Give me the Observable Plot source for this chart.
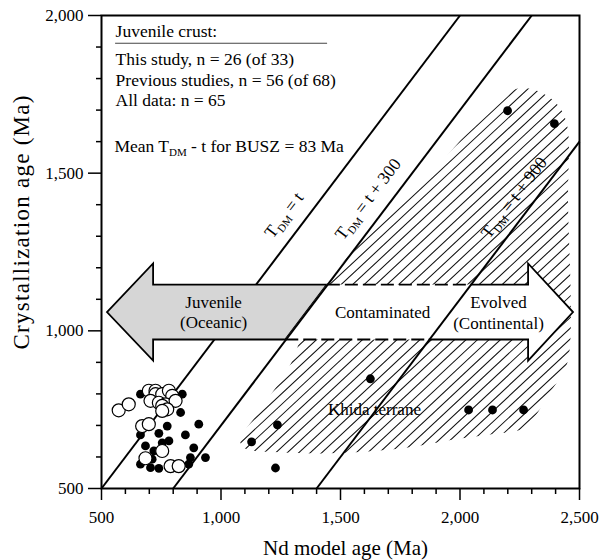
<!DOCTYPE html>
<html><head><meta charset="utf-8">
<script src="https://cdn.jsdelivr.net/npm/d3@7"></script>
<script src="https://cdn.jsdelivr.net/npm/@observablehq/plot@0.6"></script>
<style>body{margin:0;background:#fff}</style>
</head><body><div id="chart"></div>
<script>
// ---------- data ----------
const xTicks = [500, 1000, 1500, 2000, 2500];
const yTicks = [500, 1000, 1500, 2000];
const xMinor = [600,700,800,900,1100,1200,1300,1400,1600,1700,1800,1900,2100,2200,2300,2400];
const yMinor = [600,700,800,900,1100,1200,1300,1400,1600,1700,1800,1900];

// reference lines T_DM = t + offset
const refOffsets = [0, 300, 900];
const refLabels = ["t", "t + 300", "t + 900"];
const refLabelX = [1266, 1617, 2228];
const refLabelY = [1365, 1416, 1421];

// juvenile crust (open circles)
const openX = [572,614,698,726,726,754,782,796,705,740,768,754,810,775,754,670,698,754,684,789,823];
const openY = [748,767,810,810,799,799,810,794,778,772,767,762,778,751,746,698,704,619,596,571,571];
// other samples (filled circles)
const filledX = [663,838,831,775,907,663,740,851,684,719,754,782,663,705,740,872,886,865,935,712,
                 1236,1128,1228,1625,2036,2136,2266,2199,2395];
const filledY = [799,799,741,698,704,670,675,670,635,619,645,651,577,566,564,598,629,577,598,593,
                 702,648,565,848,749,749,749,1698,1657];

// hatched field (Khida terrane) outline
const hatchX = [1429,1835,2190,2253,2337,2412,2450,2454,2454,2412,2370,2328,2266,2128,2002,1751,1458,1249,1103,1082,1165,1291,1333];
const hatchY = [1137,1460,1746,1768,1756,1714,1651,1413,905,841,794,740,689,670,657,625,610,613,625,651,746,889,968];

// legend text
const legendLines = ["Juvenile crust:", "This study, n = 26 (of 33)", "Previous studies, n = 56 (of 68)", "All data: n = 65"];
const legendY = [1931, 1844, 1778, 1714];

// arrow annotations
const arrowLabels = ["Juvenile", "(Oceanic)", "Contaminated", "Evolved", "(Continental)", "Khida terrane"];
const arrowLabelX = [969, 969, 1676, 2161, 2161, 1642];
const arrowLabelY = [1089, 1025, 1057, 1089, 1022, 749];

const xTitle = "Nd model age (Ma)";
const yTitle = "Crystallization age (Ma)";

// ---------- geometry helpers ----------
const A = {mid: 1058, body: 87, head: 154, lTip: 525, lBase: 718, rBase: 2287, rTip: 2475};
const onLine = (y, off) => y + off; // x on T_DM = t + off at given y
const aTop = A.mid + A.body, aBot = A.mid - A.body;

const grayArrow = [[A.lTip, A.mid],[A.lBase, A.mid + A.head],[A.lBase, aTop],[onLine(aTop,300), aTop],
                   [onLine(aBot,300), aBot],[A.lBase, aBot],[A.lBase, A.mid - A.head]];
const whiteArrow = [[onLine(aTop,300), aTop],[A.rBase, aTop],[A.rBase, A.mid + A.head],[A.rTip, A.mid],
                    [A.rBase, A.mid - A.head],[A.rBase, aBot],[onLine(aBot,300), aBot]];
const solidOutline = [[onLine(aTop,900), aTop],[A.rBase, aTop],[A.rBase, A.mid + A.head],[A.rTip, A.mid],
                      [A.rBase, A.mid - A.head],[A.rBase, aBot],[onLine(aBot,900), aBot]];
const dashTop = [[onLine(aTop,300), aTop],[onLine(aTop,900), aTop]];
const dashBot = [[onLine(aBot,300), aBot],[onLine(aBot,900), aBot]];

const pathMark = (pts, attrs, closed, curve) => (index, scales) => {
  const d = d3.line().curve(curve || d3.curveLinear)(pts.map(([x, y]) => [scales.x(x), scales.y(y)]));
  const p = d3.create("svg:path").attr("d", d + (closed ? "Z" : ""));
  for (const k in attrs) p.attr(k, attrs[k]);
  return p.node();
};

// hatching: parallel strokes clipped to the field outline
const hatchMark = (index, scales) => {
  const g = d3.create("svg:g");
  const pts = hatchX.map((x, i) => [scales.x(x), scales.y(hatchY[i])]);
  g.append("defs").append("clipPath").attr("id", "hatchclip")
    .append("path").attr("d", d3.line().curve(d3.curveCatmullRomClosed)(pts));
  const xs = pts.map(p => p[0]), ys = pts.map(p => p[1]);
  const x0 = d3.min(xs) - 5, x1 = d3.max(xs) + 5, y0 = d3.min(ys) - 5, y1 = d3.max(ys) + 5;
  const ang = 43 * Math.PI / 180, step = 11.5; // horizontal spacing between strokes
  const t = Math.tan(ang), span = (y1 - y0) / t;
  let d = "";
  for (let xb = x0 - span; xb <= x1; xb += step) {
    d += `M${xb},${y1}L${xb + span},${y0}`;
  }
  g.append("path").attr("d", d).attr("clip-path", "url(#hatchclip)")
    .attr("stroke", "#111").attr("stroke-width", 1.05).attr("fill", "none");
  return g.node();
};

// texts with T_DM subscript
const richItems = [
  ...refLabels.map((s, i) => ({x: refLabelX[i], y: refLabelY[i], rotate: -52.8, anchor: "middle", dy: "0.32em", rest: " = " + s})),
  {x: 556, y: 1566, rotate: 0, anchor: "start", dy: 0, pre: "Mean ", rest: " - t for BUSZ = 83 Ma"}
];
const richText = (index, scales) => {
  const g = d3.create("svg:g").attr("font-family", "'Liberation Serif', serif").attr("fill", "black");
  for (const it of richItems) {
    const t = g.append("text")
      .attr("transform", `translate(${scales.x(it.x)},${scales.y(it.y)}) rotate(${it.rotate})`)
      .attr("text-anchor", it.anchor).attr("font-size", 17.5).attr("dy", it.dy);
    t.append("tspan").text((it.pre || "") + "T");
    t.append("tspan").attr("font-size", 11).attr("dy", 4).text("DM");
    t.append("tspan").attr("dy", -4).text(it.rest);
  }
  return g.node();
};

// y-axis title, placed relative to the frame
const yTitleMark = (index, scales, values, dims) => {
  const x = dims.marginLeft - 79;
  const y = (dims.marginTop + dims.height - dims.marginBottom) / 2 - 29;
  return d3.create("svg:text")
    .attr("transform", `translate(${x},${y}) rotate(-90)`)
    .attr("text-anchor", "middle").attr("dy", "0.32em")
    .attr("font-family", "'Liberation Serif', serif").attr("font-size", 23)
    .attr("textLength", 254).attr("lengthAdjust", "spacing")
    .attr("fill", "black").text(yTitle).node();
};

const refs = refOffsets.map(o => {
  const x2 = Math.min(2500, 2000 + o);
  return {o, x1: 500 + o, y1: 500, x2, y2: x2 - o};
});

// ---------- plot ----------
const chart = Plot.plot({
  width: 601, height: 560,
  marginLeft: 101, marginRight: 22, marginTop: 15, marginBottom: 72,
  x: {domain: [500, 2500]},
  y: {domain: [500, 2000]},
  style: {fontFamily: "'Liberation Serif', serif", fontSize: "17px", color: "black", background: "white"},
  marks: [
    hatchMark,
    Plot.link(refs.filter(d => d.o === 0), {x1: "x1", y1: "y1", x2: "x2", y2: "y2", stroke: "black", strokeWidth: 2}),
    pathMark(grayArrow, {fill: "#d6d6d6", stroke: "black", "stroke-width": 1.8, "stroke-linejoin": "miter"}, true),
    pathMark(whiteArrow, {fill: "white", stroke: "none"}, true),
    pathMark(solidOutline, {fill: "none", stroke: "black", "stroke-width": 1.8}, false),
    pathMark(dashTop, {fill: "none", stroke: "black", "stroke-width": 1.8, "stroke-dasharray": "13,5"}, false),
    pathMark(dashBot, {fill: "none", stroke: "black", "stroke-width": 1.8, "stroke-dasharray": "13,5"}, false),
    Plot.link(refs.filter(d => d.o !== 0), {x1: "x1", y1: "y1", x2: "x2", y2: "y2", stroke: "black", strokeWidth: 2}),
    Plot.dot(filledX.map((x, i) => ({x, y: filledY[i]})), {x: "x", y: "y", r: 4.4, fill: "black", stroke: "none"}),
    Plot.dot(openX.map((x, i) => ({x, y: openY[i]})), {x: "x", y: "y", r: 6.5, fill: "white", stroke: "black", strokeWidth: 1.2}),
    Plot.text(arrowLabels.map((t, i) => ({t, x: arrowLabelX[i], y: arrowLabelY[i]})), {x: "x", y: "y", text: "t", fontSize: 17, fill: "black"}),
    Plot.text(legendLines.map((t, i) => ({t, y: legendY[i]})), {x: () => 559, y: "y", text: "t", textAnchor: "start", lineAnchor: "bottom", fontSize: 17.5, fill: "black"}),
    Plot.ruleY([1912], {x1: 559, x2: 1446, stroke: "#444", strokeWidth: 1.2}),
    richText,
    Plot.axisX({ticks: xTicks, tickFormat: d3.format(","), tickSize: 12, tickPadding: 10, label: null, strokeWidth: 1.5}),
    Plot.axisX({ticks: xMinor, tickFormat: () => "", tickSize: 6, label: null, strokeWidth: 1.5}),
    Plot.axisY({ticks: yTicks, tickFormat: d3.format(","), tickSize: 13, tickPadding: 5, label: null, strokeWidth: 1.5}),
    Plot.axisY({ticks: yMinor, tickFormat: () => "", tickSize: 5, label: null, strokeWidth: 1.5}),
    Plot.frame({stroke: "black", strokeWidth: 2}),
    Plot.text([xTitle], {text: d => d, frameAnchor: "bottom", textAnchor: "middle", lineAnchor: "middle", dy: 60, dx: 5, fontSize: 21, fill: "black"}),
    yTitleMark
  ]
});
document.getElementById("chart").appendChild(chart);
</script>
</body></html>
